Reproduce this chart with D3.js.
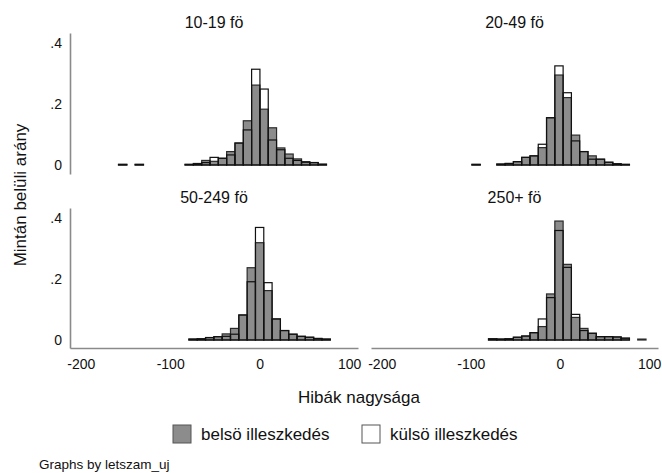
<!DOCTYPE html>
<html>
<head>
<meta charset="utf-8">
<script src="https://cdn.jsdelivr.net/npm/d3@7"></script>
<style>
  html, body { margin: 0; padding: 0; background: #fff; }
  svg { display: block; font-family: "Liberation Sans", Arial, sans-serif; }
</style>
</head>
<body>
<svg id="chart" width="662" height="473"></svg>
<script>
// ---- data ----
const panelNames = ["10-19 fö", "20-49 fö", "50-249 fö", "250+ fö"];
const seriesNames = ["belsö illeszkedés", "külsö illeszkedés"];
const binWidth = 9.3;
// center of the first bin of each panel (data units)
const firstBinCenter = [-153.1, -94.1, -74.4, -75.5];
// heights per bin (share within sample), left to right
const belso_1019 = [0.002, 0, 0.002, 0, 0, 0, 0, 0, 0.002, 0.005, 0.015, 0.012, 0.022, 0.044, 0.072, 0.145, 0.262, 0.183, 0.122, 0.056, 0.036, 0.020, 0.011, 0.008, 0.003];
const kulso_1019  = [0.002, 0, 0.002, 0, 0, 0, 0, 0, 0.002, 0.004, 0.008, 0.025, 0.022, 0.033, 0.072, 0.115, 0.314, 0.249, 0.082, 0.050, 0.022, 0.015, 0.009, 0.008, 0.002];
const belso_2049 = [0.002, 0, 0, 0.003, 0.005, 0.011, 0.025, 0.030, 0.057, 0.155, 0.295, 0.221, 0.098, 0.044, 0.030, 0.019, 0.009, 0.004, 0.002];
const kulso_2049  = [0.002, 0, 0, 0.003, 0.005, 0.011, 0.025, 0.030, 0.068, 0.155, 0.325, 0.237, 0.079, 0.044, 0.019, 0.019, 0.009, 0.004, 0.002];
const belso_50249 = [0.003, 0.004, 0.008, 0.011, 0.020, 0.038, 0.082, 0.237, 0.319, 0.162, 0.069, 0.031, 0.019, 0.012, 0.009, 0.005, 0.003];
const kulso_50249  = [0.003, 0.004, 0.008, 0.011, 0.012, 0.019, 0.082, 0.191, 0.369, 0.188, 0.069, 0.031, 0.019, 0.012, 0.009, 0.005, 0.003];
const belso_250 = [0.004, 0.003, 0.004, 0.009, 0.013, 0.024, 0.044, 0.151, 0.390, 0.248, 0.074, 0.038, 0.022, 0.011, 0.011, 0.010, 0.006, 0, 0.003];
const kulso_250  = [0.004, 0.003, 0.004, 0.009, 0.013, 0.024, 0.069, 0.139, 0.359, 0.238, 0.084, 0.031, 0.022, 0.011, 0.011, 0.010, 0.006, 0, 0];
const belsoData = [belso_1019, belso_2049, belso_50249, belso_250];
const kulsoData = [kulso_1019, kulso_2049, kulso_50249, kulso_250];
const xTicks = [-200, -100, 0, 100];
const yTicks = [0, 0.2, 0.4];
const xTitle = "Hibák nagysága";
const yTitle = "Mintán belüli arány";
const noteText = "Graphs by letszam_uj";

// ---- layout ----
const svg = d3.select("#chart");
const colRanges = [[70, 358], [371, 658]];
const rowRanges = [[174, 33], [348, 208]];
const xDomain = [-212, 110];
const fillGray = "#8c8c8c";
const axisGray = "#8a8a8a";

panelNames.forEach((name, i) => {
  const col = i % 2, row = Math.floor(i / 2);
  const x = d3.scaleLinear().domain(xDomain).range(colRanges[col]);
  const yDom0 = -(rowRanges[row][0] - (row === 0 ? 165 : 340)) / 305;
  const y = d3.scaleLinear().domain([yDom0, yDom0 + (rowRanges[row][0] - rowRanges[row][1]) / 305]).range(rowRanges[row]);
  const g = svg.append("g");

  const toBins = arr => arr.map((h, k) => ({
    x0: firstBinCenter[i] + k * binWidth - binWidth / 2,
    x1: firstBinCenter[i] + k * binWidth + binWidth / 2,
    h
  })).filter(d => d.h > 0);

  // filled bars (belső)
  g.selectAll("rect.b").data(toBins(belsoData[i])).join("rect")
    .attr("class", "b")
    .attr("x", d => x(d.x0)).attr("width", d => x(d.x1) - x(d.x0))
    .attr("y", d => y(d.h)).attr("height", d => y(0) - y(d.h))
    .attr("fill", fillGray).attr("stroke", "#2b2b2b").attr("stroke-width", 1.2);
  // hollow bars (külső)
  g.selectAll("rect.k").data(toBins(kulsoData[i])).join("rect")
    .attr("class", "k")
    .attr("x", d => x(d.x0)).attr("width", d => x(d.x1) - x(d.x0))
    .attr("y", d => y(d.h)).attr("height", d => y(0) - y(d.h))
    .attr("fill", "none").attr("stroke", "#111").attr("stroke-width", 1.2);

  // panel title
  g.append("text")
    .attr("x", (colRanges[col][0] + colRanges[col][1]) / 2)
    .attr("y", row === 0 ? 28 : 203)
    .attr("text-anchor", "middle").attr("font-size", 16).attr("fill", "#111")
    .text(name);

  if (col === 0) {
    const ax = g.append("g").attr("transform", `translate(${colRanges[col][0]},0)`)
      .call(d3.axisLeft(y).tickValues(yTicks).tickSize(0).tickPadding(8)
        .tickFormat(d => d === 0 ? "0" : d3.format(".1f")(d).replace(/^0/, "")));
    ax.select(".domain").attr("stroke", axisGray).attr("stroke-width", 1.6);
    ax.selectAll("text").attr("font-size", 14).attr("fill", "#111")
      .attr("font-family", "Liberation Sans, Arial, sans-serif");
  }
  if (row === 1) {
    const ax = g.append("g").attr("transform", `translate(0,${rowRanges[row][0]})`)
      .call(d3.axisBottom(x).tickValues(xTicks).tickSize(0).tickPadding(11)
        .tickFormat(d => String(d)));
    ax.select(".domain").attr("stroke", axisGray).attr("stroke-width", 1.6);
    ax.selectAll("text").attr("font-size", 14).attr("fill", "#111")
      .attr("font-family", "Liberation Sans, Arial, sans-serif");
  }
});

// axis titles
svg.append("text").attr("x", 359).attr("y", 403).attr("text-anchor", "middle")
  .attr("font-size", 17).attr("fill", "#111").text(xTitle);
svg.append("text").attr("transform", "translate(26,195) rotate(-90)")
  .attr("text-anchor", "middle").attr("font-size", 17).attr("fill", "#111").text(yTitle);

// legend
const legendItems = [
  { label: seriesNames[0], fill: fillGray, x: 173 },
  { label: seriesNames[1], fill: "#fff", x: 362 }
];
legendItems.forEach(d => {
  svg.append("rect").attr("x", d.x).attr("y", 425).attr("width", 18).attr("height", 18)
    .attr("fill", d.fill).attr("stroke", "#555").attr("stroke-width", 1);
  svg.append("text").attr("x", d.x + 28).attr("y", 440).attr("font-size", 17)
    .attr("fill", "#111").text(d.label);
});

// note
svg.append("text").attr("x", 39).attr("y", 469).attr("font-size", 13.5)
  .attr("fill", "#111").text(noteText);
</script>
</body>
</html>
